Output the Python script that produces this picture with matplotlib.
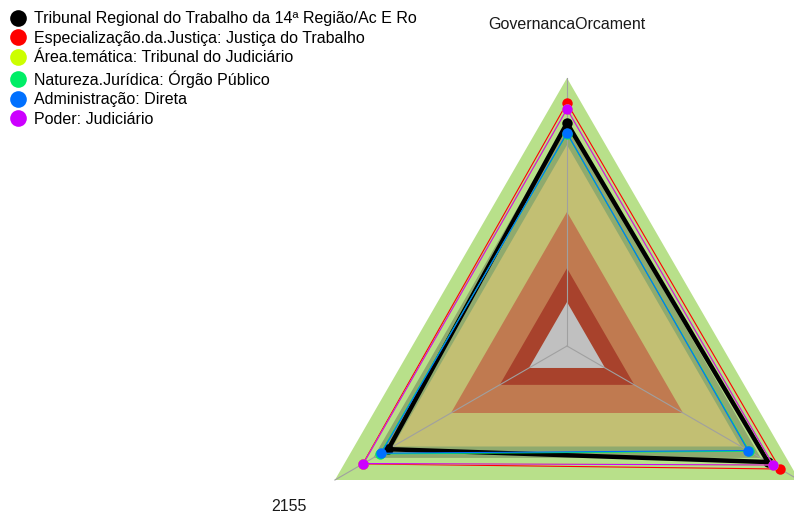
import matplotlib.pyplot as plt
import numpy as np
from matplotlib.lines import Line2D

plt.rcParams['font.family'] = ['Liberation Sans', 'DejaVu Sans']

# axes of the radar (third label falls outside the picture)
axis_labels = ['GovernancaOrcament', '2155', '']

series_names = ['Tribunal Regional do Trabalho da 14ª Região/Ac E Ro',
                'Especialização.da.Justiça: Justiça do Trabalho',
                'Área.temática: Tribunal do Judiciário',
                'Natureza.Jurídica: Órgão Público',
                'Administração: Direta',
                'Poder: Judiciário']
series_colors = ['#000000', '#ff0000', '#ccff00', '#00ee66', '#0070ff', '#cc00ff']

# values per axis: top, bottom-left, bottom-right (scale 0..1)
tribunal = [0.832, 0.770, 0.866]
especializacao = [0.907, 0.880, 0.918]
area_tematica = [0.884, 0.877, 0.888]
natureza = [0.792, 0.805, 0.785]
administracao = [0.795, 0.800, 0.780]
poder = [0.884, 0.877, 0.888]
series_values = [tribunal, especializacao, area_tematica, natureza, administracao, poder]

# background bands (outer to inner)
band_levels = [1.0, 0.835, 0.75, 0.5, 0.29, 0.164]
band_colors = ['#b8e08a', '#8faa6e', '#c2bf73', '#c07a50', '#a8422c', '#c0c0c0']

angles = np.deg2rad([90, 210, 330])


def tri(vals):
    vals = np.asarray(vals, dtype=float)
    x = vals * np.cos(angles)
    y = vals * np.sin(angles)
    return np.append(x, x[0]), np.append(y, y[0])


W, H = 794, 519
cx, cy, R = 567, 346, 268  # centre and radius in pixels

fig = plt.figure(figsize=(W / 100, H / 100), dpi=100)
ax = fig.add_axes([0, 0, 1, 1])
ax.set_xlim(-cx / R, (W - cx) / R)
ax.set_ylim(-(H - cy) / R, cy / R)
ax.axis('off')

for lvl, col in zip(band_levels, band_colors):
    x, y = tri([lvl] * 3)
    ax.fill(x, y, color=col, lw=0, zorder=1)

for a in angles:
    ax.plot([0, np.cos(a)], [0, np.sin(a)], color='#a0a0a0', lw=0.8, zorder=2)

for vals, col, i in zip(series_values, series_colors, range(len(series_values))):
    x, y = tri(vals)
    lw = 3.2 if i == 0 else 0.8
    ax.plot(x, y, color=col, lw=lw, zorder=3 + i)
    ax.plot(x[:-1], y[:-1], 'o', color=col, ms=7.5, mec='none', zorder=3 + i)

for lab, a in zip(axis_labels, angles):
    ax.text(1.2 * np.cos(a), 1.2 * np.sin(a), lab, ha='center', va='center',
            fontsize=11.5, color='#1a1a1a')

handles = [Line2D([], [], marker='o', ls='none', color=c, ms=12, mec='none')
           for c in series_colors]
fig.legend(handles, series_names, loc='upper left', bbox_to_anchor=(-0.006, 1.0),
           frameon=False, fontsize=11.5, handletextpad=0.3, labelspacing=0.29,
           borderaxespad=0.3, handlelength=1.4)

fig.savefig('out.png', dpi=100)
